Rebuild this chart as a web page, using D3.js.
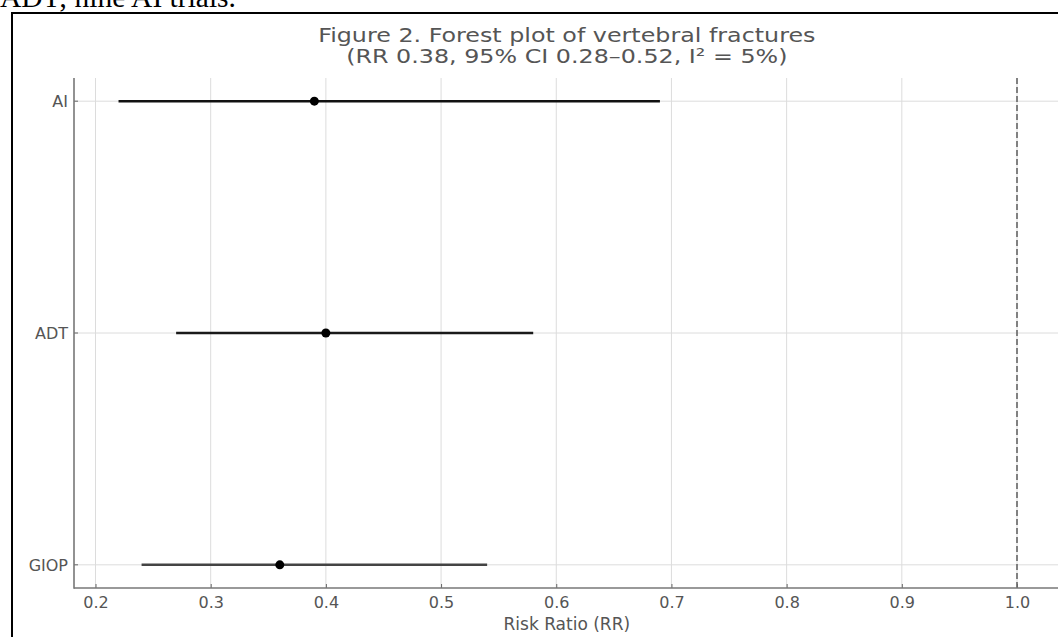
<!DOCTYPE html>
<html>
<head>
<meta charset="utf-8">
<script src="https://cdn.jsdelivr.net/npm/d3@7"></script>
<style>
html,body{margin:0;padding:0;background:#fff;overflow:hidden;}
</style>
</head>
<body>
<script>
const categories = ["AI", "ADT", "GIOP"];
const estimates = [0.39, 0.40, 0.36];
const lower = [0.22, 0.27, 0.24];
const upper = [0.69, 0.58, 0.54];
const xTicks = [0.2, 0.3, 0.4, 0.5, 0.6, 0.7, 0.8, 0.9, 1.0];
const titleLines = ["Figure 2. Forest plot of vertebral fractures", "(RR 0.38, 95% CI 0.28\u20130.52, I\u00b2 = 5%)"];
const xLabel = "Risk Ratio (RR)";
const topText = "ADT; nine AI trials.";
const lineColors = ["#111", "#1a1a1a", "#444"];

(function () {
const W = 1058, H = 637;
const svg = d3.select("body").append("svg").attr("width", W).attr("height", H);

// cut-off document text above the figure
svg.append("text").attr("x", 0).attr("y", 7)
  .attr("font-family", "Liberation Serif, Times New Roman, serif")
  .attr("font-size", 29.5).attr("fill", "#000").text(topText);

// frame
svg.append("rect").attr("x", 12).attr("y", 13).attr("width", 1100).attr("height", 700)
  .attr("fill", "none").attr("stroke", "#000").attr("stroke-width", 2);

const pLeft = 74, pTop = 78, pBottom = 588;
const x = d3.scaleLinear().domain([0.2, 1.0]).range([95.5, 1017]);
const pRight = x(1.037);
const yIdx = d3.scaleLinear().domain([-0.1, 2.1]).range([pTop, pBottom]);
const y = c => yIdx(categories.indexOf(c));

const g = svg.append("g");
const font = "DejaVu Sans, sans-serif";

// grid
g.selectAll(".vg").data(xTicks).join("line")
  .attr("x1", d => x(d)).attr("x2", d => x(d)).attr("y1", pTop).attr("y2", pBottom)
  .attr("stroke", "#dcdcdc").attr("stroke-width", 1);
g.selectAll(".hg").data(categories).join("line")
  .attr("x1", pLeft).attr("x2", pRight).attr("y1", d => y(d)).attr("y2", d => y(d))
  .attr("stroke", "#dcdcdc").attr("stroke-width", 1);

// reference line
g.append("line").attr("x1", x(1)).attr("x2", x(1)).attr("y1", pTop).attr("y2", pBottom)
  .attr("stroke", "#666").attr("stroke-width", 1.6).attr("stroke-dasharray", "6,3");

// axes
const xAxis = d3.axisBottom(x).tickValues(xTicks).tickFormat(d3.format(".1f")).tickSize(-4).tickPadding(9);
const xa = g.append("g").attr("transform", `translate(0,${pBottom})`).call(xAxis);
xa.select(".domain").remove();
xa.selectAll(".tick line").attr("stroke", "#666");
xa.selectAll("text").attr("font-family", font).attr("font-size", 16).attr("fill", "#555");

const ya = g.append("g");
ya.selectAll("text").data(categories).join("text")
  .attr("x", pLeft - 6).attr("y", d => y(d)).attr("dy", "0.36em").attr("text-anchor", "end")
  .attr("font-family", font).attr("font-size", 16).attr("fill", "#555").text(d => d);
ya.selectAll("line").data(categories).join("line")
  .attr("x1", pLeft).attr("x2", pLeft + 4).attr("y1", d => y(d)).attr("y2", d => y(d))
  .attr("stroke", "#666");

g.append("line").attr("x1", pLeft).attr("x2", pLeft).attr("y1", pTop).attr("y2", pBottom + 0.75)
  .attr("stroke", "#777").attr("stroke-width", 1.6);
g.append("line").attr("x1", pLeft).attr("x2", pRight).attr("y1", pBottom).attr("y2", pBottom)
  .attr("stroke", "#777").attr("stroke-width", 1.6);

// CIs
g.selectAll(".ci").data(categories).join("line")
  .attr("x1", (d, i) => x(lower[i])).attr("x2", (d, i) => x(upper[i]))
  .attr("y1", d => y(d)).attr("y2", d => y(d))
  .attr("stroke", (d, i) => lineColors[i]).attr("stroke-width", 2.6);
g.selectAll(".pt").data(categories).join("circle")
  .attr("cx", (d, i) => x(estimates[i])).attr("cy", d => y(d)).attr("r", 4.5)
  .attr("fill", "#000");

// title (source image is stretched horizontally)
const cx = (pLeft + pRight) / 2;
svg.selectAll(".title").data(titleLines).join("text")
  .attr("transform", (d, i) => `translate(${cx},${42 + i * 21}) scale(1.22,1)`)
  .attr("text-anchor", "middle")
  .attr("font-family", font).attr("font-size", 19.5).attr("fill", "#555").text(d => d);

svg.append("text").attr("x", cx).attr("y", 630).attr("text-anchor", "middle")
  .attr("font-family", font).attr("font-size", 17).attr("fill", "#555").text(xLabel);
})();
</script>
</body>
</html>
